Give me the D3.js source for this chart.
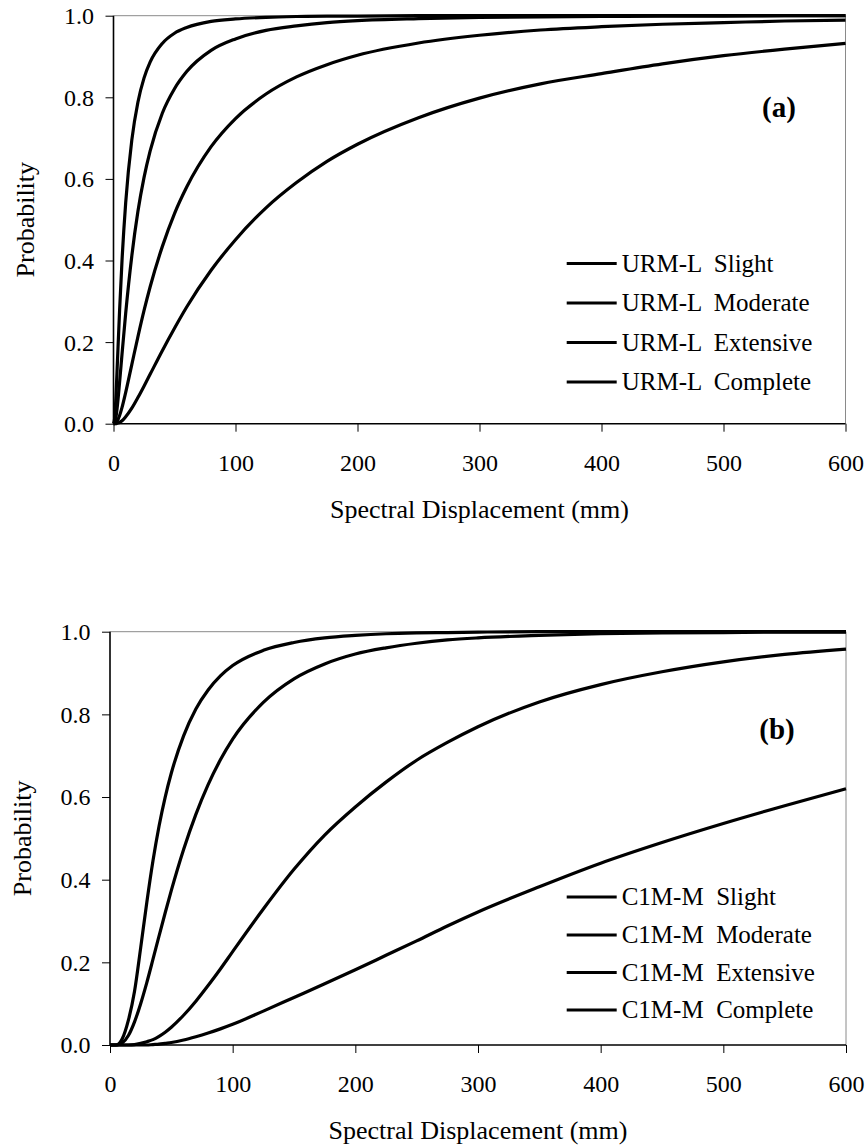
<!DOCTYPE html>
<html><head><meta charset="utf-8">
<script src="https://cdn.jsdelivr.net/npm/d3@7"></script>
<style>
html,body{margin:0;padding:0;background:#fff;}
svg text{font-family:"Liberation Serif","Times New Roman",serif;fill:#000;}
</style></head><body>
<svg id="chart" width="868" height="1147"></svg>
<script>
// ---------- data ----------
const xTickValues = [0, 100, 200, 300, 400, 500, 600];
const yTickValues = [0, 0.2, 0.4, 0.6, 0.8, 1.0];

// panel (a) URM-L : spectral displacement (mm)
const xA = [0,1,2,3,5,7,10,15,20,25,30,40,50,60,80,100,125,150,175,200,250,300,350,400,450,500,550,600];
const urmSlight    = [0,0.014,0.066,0.136,0.278,0.401,0.542,0.695,0.788,0.847,0.886,0.932,0.957,0.971,0.986,0.992,0.996,0.998,0.999,0.999,1,1,1,1,1,1,1,1];
const urmModerate  = [0,0.003,0.016,0.039,0.102,0.171,0.271,0.411,0.520,0.603,0.668,0.761,0.821,0.863,0.915,0.943,0.964,0.975,0.983,0.988,0.993,0.996,0.997,0.998,0.999,0.999,1,1];
const urmExtensive = [0,0,0.002,0.006,0.020,0.040,0.077,0.145,0.213,0.277,0.335,0.434,0.515,0.580,0.679,0.748,0.808,0.850,0.880,0.903,0.933,0.952,0.965,0.973,0.979,0.983,0.987,0.989];
const urmComplete  = [0,0,0,0.001,0.003,0.007,0.017,0.038,0.064,0.092,0.121,0.179,0.234,0.286,0.376,0.451,0.529,0.591,0.643,0.685,0.750,0.798,0.833,0.858,0.882,0.902,0.918,0.932];
const urmNames = ["URM-L  Slight", "URM-L  Moderate", "URM-L  Extensive", "URM-L  Complete"];

// panel (b) C1M-M
const xB = [0,5,10,15,20,25,30,35,40,45,50,60,70,80,90,100,125,150,175,200,225,250,275,300,350,400,450,500,550,600];
const c1mSlight    = [0,0,0.015,0.06,0.13,0.235,0.345,0.445,0.53,0.60,0.658,0.748,0.813,0.859,0.893,0.918,0.955,0.974,0.985,0.991,0.995,0.997,0.998,0.999,1,1,1,1,1,1];
const c1mModerate  = [0,0,0.005,0.023,0.056,0.10,0.151,0.207,0.264,0.32,0.374,0.473,0.558,0.63,0.69,0.74,0.829,0.886,0.922,0.946,0.961,0.972,0.98,0.985,0.991,0.995,0.997,0.998,0.999,0.999];
const c1mExtensive = [0,0,0,0,0.001,0.004,0.008,0.013,0.021,0.031,0.043,0.072,0.106,0.144,0.184,0.226,0.329,0.425,0.508,0.576,0.636,0.689,0.732,0.77,0.83,0.872,0.903,0.927,0.945,0.958];
const c1mComplete  = [0,0,0,0,0,0,0,0.001,0.002,0.004,0.006,0.012,0.02,0.029,0.039,0.05,0.082,0.115,0.148,0.182,0.217,0.252,0.288,0.322,0.383,0.44,0.49,0.536,0.579,0.62];
const c1mNames = ["C1M-M  Slight", "C1M-M  Moderate", "C1M-M  Extensive", "C1M-M  Complete"];

const xTitle = "Spectral Displacement (mm)";
const yTitle = "Probability";

// ---------- drawing ----------
const svg = d3.select("#chart");

function drawPanel(cfg) {
  const x = d3.scaleLinear().domain([0, 600]).range([cfg.left, cfg.right]);
  const y = d3.scaleLinear().domain([0, 1]).range([cfg.bottom, cfg.top]);
  const g = svg.append("g");

  // frame (top / right) grey
  g.append("line").attr("x1", cfg.left).attr("x2", cfg.right).attr("y1", cfg.top).attr("y2", cfg.top)
    .attr("stroke", "#8a8a8a").attr("stroke-width", 1);
  g.append("line").attr("x1", cfg.right).attr("x2", cfg.right).attr("y1", cfg.top).attr("y2", cfg.bottom)
    .attr("stroke", "#8a8a8a").attr("stroke-width", 1);

  // axes
  const ya = g.append("g").attr("transform", `translate(${cfg.left},0)`)
    .call(d3.axisLeft(y).tickValues(yTickValues).tickFormat(d3.format(".1f")).tickSize(8).tickSizeOuter(0));
  ya.select(".domain").remove();
  ya.selectAll(".tick line").attr("stroke", "#000").attr("stroke-width", 1);
  ya.selectAll(".tick text").attr("x", -19.5).attr("dy", "0.33em")
    .style("font-size", "24px").style("font-family", "'Liberation Serif', serif");

  const xa = g.append("g").attr("transform", `translate(0,${cfg.bottom})`)
    .call(d3.axisBottom(x).tickValues(xTickValues).tickFormat(d3.format("d")).tickSize(8).tickSizeOuter(0));
  xa.select(".domain").remove();
  xa.selectAll(".tick line").attr("stroke", "#000").attr("stroke-width", 1);
  xa.selectAll(".tick text").attr("y", 47).attr("dy", 0)
    .style("font-size", "24px").style("font-family", "'Liberation Serif', serif");

  g.append("line").attr("x1", cfg.left).attr("x2", cfg.left).attr("y1", cfg.top).attr("y2", cfg.bottom)
    .attr("stroke", "#000").attr("stroke-width", 1.6);
  g.append("line").attr("x1", cfg.left).attr("x2", cfg.right).attr("y1", cfg.bottom).attr("y2", cfg.bottom)
    .attr("stroke", "#000").attr("stroke-width", 1.6);

  // curves
  const line = d3.line().x(d => x(d[0])).y(d => y(d[1])).curve(d3.curveMonotoneX);
  cfg.series.forEach(s => {
    g.append("path").datum(cfg.xs.map((v, i) => [v, s[i]]))
      .attr("d", line).attr("fill", "none").attr("stroke", "#000")
      .attr("stroke-width", 3.2).attr("stroke-linejoin", "round");
  });

  // axis titles
  g.append("text").attr("x", (cfg.left + cfg.right) / 2).attr("y", cfg.bottom + 94)
    .attr("text-anchor", "middle").style("font-size", "26px").text(xTitle);
  g.append("text").attr("transform", `translate(${cfg.yTitleX},${(cfg.top + cfg.bottom) / 2}) rotate(-90)`)
    .attr("text-anchor", "middle").style("font-size", "26px").text(yTitle);

  // tag
  g.append("text").attr("x", cfg.tagX).attr("y", cfg.tagY).attr("text-anchor", "middle")
    .style("font-size", "29px").style("font-weight", "bold").text(cfg.tag);

  // legend
  cfg.names.forEach((n, i) => {
    const ly = cfg.legendY[i];
    g.append("line").attr("x1", 566.7).attr("x2", 616.7).attr("y1", ly).attr("y2", ly)
      .attr("stroke", "#000").attr("stroke-width", 3.2);
    g.append("text").attr("x", 621.7).attr("y", ly + 8.3)
      .style("font-size", "25px").style("white-space", "pre").text(n);
  });
}

drawPanel({
  left: 113.5, right: 845.5, top: 15.7, bottom: 423.7,
  xs: xA, series: [urmSlight, urmModerate, urmExtensive, urmComplete], names: urmNames,
  tag: "(a)", tagX: 779, tagY: 117, yTitleX: 34,
  legendY: [263.5, 303, 342.5, 382]
});
drawPanel({
  left: 110, right: 846, top: 631.7, bottom: 1045,
  xs: xB, series: [c1mSlight, c1mModerate, c1mExtensive, c1mComplete], names: c1mNames,
  tag: "(b)", tagX: 777, tagY: 739, yTitleX: 31,
  legendY: [897, 935, 972.5, 1010]
});
</script>
</body></html>
